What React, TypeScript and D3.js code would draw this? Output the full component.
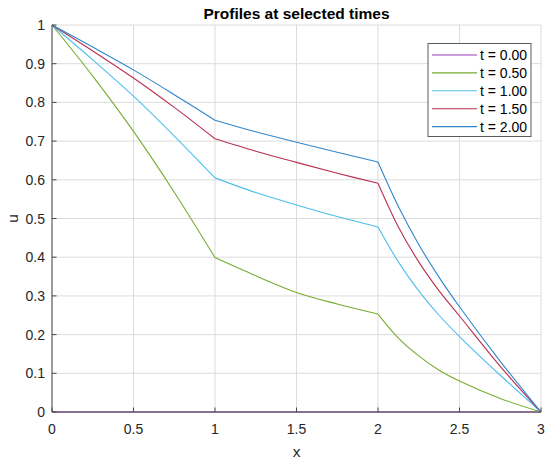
import * as d3 from "d3";

// Sample positions along x (denser just past the x = 2 interface, where the profiles bend most)
const xs = [0, 0.25, 0.5, 0.75, 1, 1.25, 1.5, 1.75, 2, 2.125, 2.25, 2.375, 2.5, 2.75, 3];

const u000 = [0, 0, 0, 0, 0, 0, 0, 0, 0, 0, 0, 0, 0, 0, 0];
const u050 = [1, 0.868, 0.725, 0.568, 0.399, 0.352, 0.309, 0.279, 0.253, 0.191, 0.145, 0.108, 0.08, 0.035, 0];
const u100 = [1, 0.91, 0.816, 0.713, 0.605, 0.567, 0.535, 0.505, 0.478, 0.388, 0.313, 0.25, 0.195, 0.095, 0];
const u150 = [1, 0.933, 0.863, 0.787, 0.706, 0.674, 0.645, 0.617, 0.591, 0.478, 0.388, 0.313, 0.248, 0.118, 0];
const u200 = [1, 0.943, 0.884, 0.82, 0.754, 0.724, 0.697, 0.671, 0.646, 0.531, 0.433, 0.348, 0.272, 0.131, 0];

const labels = ["t = 0.00", "t = 0.50", "t = 1.00", "t = 1.50", "t = 2.00"];
const colors = ["#9b3fb8", "#77ac30", "#4dbeee", "#b8304f", "#2f86cc"];
const series = [u000, u050, u100, u150, u200];

// layer interfaces (kinks at x = 1 and x = 2) — each piece gets its own smooth curve
const pieces = [[0, 4], [4, 8], [8, 14]];

const xTicks = [0, 0.5, 1, 1.5, 2, 2.5, 3];
const yTicks = [0, 0.1, 0.2, 0.3, 0.4, 0.5, 0.6, 0.7, 0.8, 0.9, 1];

const W = 550;
const H = 463;
const M = { left: 52, right: 9, top: 25, bottom: 51 };
const FONT = "'Liberation Sans', Arial, Helvetica, sans-serif";

export default function App() {
  const x = d3.scaleLinear().domain([0, 3]).range([M.left, W - M.right]);
  const y = d3.scaleLinear().domain([0, 1]).range([H - M.bottom, M.top]);

  const pathFor = (vals: number[]) =>
    pieces
      .map(([a, b]) =>
        d3
          .line<number>()
          .x((_, i) => x(xs[a + i]))
          .y((v) => y(v))
          .curve(d3.curveCatmullRom.alpha(0.5))(vals.slice(a, b + 1))
      )
      .join("");

  const x0 = x(0);
  const x1 = x(3);
  const y0 = y(0);
  const y1 = y(1);

  // legend geometry
  const lg = { x: 428, y: 43.5, w: 103, h: 93, row: 17.9 };

  return (
    <div style={{ position: "absolute", left: 0, top: 0 }}>
      <svg width={W} height={H} style={{ display: "block", background: "#fff" }}>
        {/* grid */}
        <g stroke="#dcdcdc" strokeWidth={1}>
          {xTicks.map((t) => (
            <line key={"gx" + t} x1={x(t)} x2={x(t)} y1={y0} y2={y1} />
          ))}
          {yTicks.map((t) => (
            <line key={"gy" + t} x1={x0} x2={x1} y1={y(t)} y2={y(t)} />
          ))}
        </g>

        {/* series */}
        <g fill="none" strokeWidth={1.1}>
          {series.map((s, i) => (
            <path key={labels[i]} d={pathFor(s)} stroke={colors[i]} />
          ))}
        </g>

        {/* axes */}
        <g stroke="#4a4a4a" strokeWidth={1}>
          <line x1={x0} x2={x1} y1={y0} y2={y0} />
          <line x1={x0} x2={x0} y1={y0} y2={y1} />
          {xTicks.map((t) => (
            <line key={"tx" + t} x1={x(t)} x2={x(t)} y1={y0} y2={y0 - 4.5} />
          ))}
          {yTicks.map((t) => (
            <line key={"ty" + t} x1={x0} x2={x0 + 4.5} y1={y(t)} y2={y(t)} />
          ))}
        </g>

        {/* tick labels */}
        <g fontFamily={FONT} fontSize={14} fill="#262626">
          {xTicks.map((t) => (
            <text key={"lx" + t} x={x(t)} y={y0 + 22} textAnchor="middle">
              {d3.format("~g")(t)}
            </text>
          ))}
          {yTicks.map((t) => (
            <text key={"ly" + t} x={x0 - 7} y={y(t)} dy="0.36em" textAnchor="end">
              {d3.format("~g")(t)}
            </text>
          ))}
        </g>

        {/* axis labels and title */}
        <text x={(x0 + x1) / 2} y={457} textAnchor="middle" fontFamily={FONT} fontSize={15.5} fill="#262626">
          x
        </text>
        <text
          transform={`translate(18,${(y0 + y1) / 2}) rotate(-90)`}
          textAnchor="middle"
          fontFamily={FONT}
          fontSize={15.5}
          fill="#262626"
        >
          u
        </text>
        <text x={(x0 + x1) / 2} y={18.5} textAnchor="middle" fontFamily={FONT} fontSize={15.5} fontWeight="bold" fill="#000">
          Profiles at selected times
        </text>

        {/* legend */}
        <rect x={lg.x} y={lg.y} width={lg.w} height={lg.h} fill="#fff" stroke="#5a5a5a" strokeWidth={1} />
        {labels.map((lab, i) => {
          const ry = lg.y + 11.5 + i * lg.row;
          return (
            <g key={"lg" + lab}>
              <line x1={lg.x + 4} x2={lg.x + 49} y1={ry} y2={ry} stroke={colors[i]} strokeWidth={1.1} />
              <text x={lg.x + 52} y={ry} dy="0.36em" fontFamily={FONT} fontSize={14} fill="#000">
                {lab}
              </text>
            </g>
          );
        })}
      </svg>
    </div>
  );
}
